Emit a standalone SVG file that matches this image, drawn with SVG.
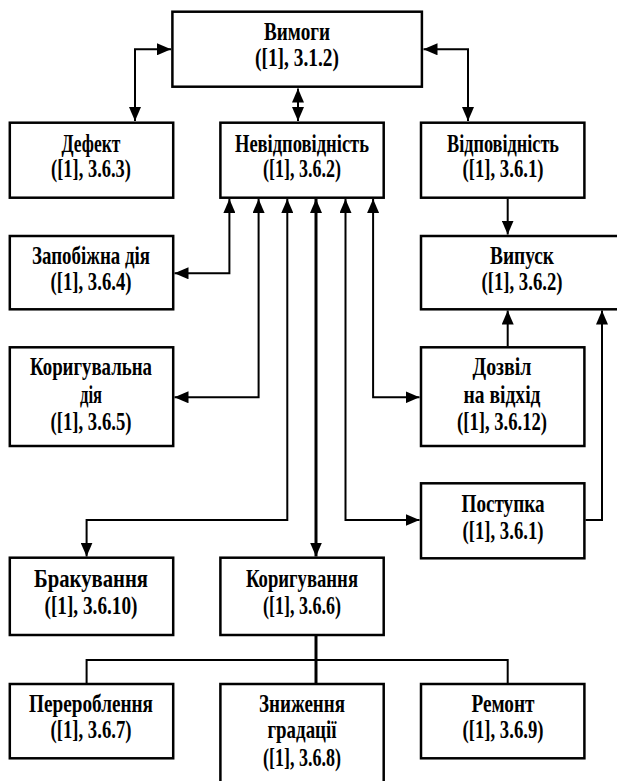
<svg xmlns="http://www.w3.org/2000/svg" width="617" height="781" viewBox="0 0 617 781">
<style>
.box{fill:#fff;stroke:#000;stroke-width:2.5}
.t{font-family:"Liberation Serif","Times New Roman","DejaVu Serif",serif;font-weight:bold;font-size:25px;text-anchor:middle;fill:#000}
.c{fill:none;stroke:#000;stroke-width:2}
.thick{stroke-width:3}
.a2{marker-start:url(#ah);marker-end:url(#ah)}
.a1{marker-end:url(#ah)}
</style>
<defs>
<marker id="ah" viewBox="0 0 14 12" refX="14" refY="6" markerWidth="14" markerHeight="12" markerUnits="userSpaceOnUse" orient="auto-start-reverse">
<path d="M0,0 L14,6 L0,12 Z" fill="#000"/>
</marker>
</defs>
<g id="connectors">
<path class="c a2" d="M171,49.3 H135 V121"/>
<path class="c a2" d="M423.5,49.3 H468 V121"/>
<path class="c a2" d="M298,88.5 V121"/>
<path class="c a2" d="M229.4,199 V273.3 H174.5"/>
<path class="c a2" d="M258.6,199 V397.3 H174.5"/>
<path class="c a2" d="M287.3,199 V520 H86.6 V556.5"/>
<path class="c thick a2" d="M316,199 V556.5"/>
<path class="c a2" d="M345.5,199 V520 H419.5"/>
<path class="c a2" d="M373.1,199 V397.3 H419.5"/>
<path class="c a1" d="M507.7,199 V234.5"/>
<path class="c a1" d="M507.7,346 V310.5"/>
<path class="c a1" d="M585.5,520 H602 V310.5"/>
<path class="c thick" d="M316,636 V684"/>
<path class="c" d="M86.6,684 V660 H507.7 V684"/>
</g>
<g id="vymohy"><rect class="box" x="172.4" y="11.7" width="249.5" height="75"/>
<text class="t" x="297" y="40" textLength="66" lengthAdjust="spacingAndGlyphs">Вимоги</text>
<text class="t" x="297" y="66" textLength="84" lengthAdjust="spacingAndGlyphs">([1], 3.1.2)</text></g>
<g id="defekt"><rect class="box" x="9.8" y="122.7" width="163.4" height="75"/>
<text class="t" x="91" y="152" textLength="59" lengthAdjust="spacingAndGlyphs">Дефект</text>
<text class="t" x="91" y="177" textLength="80" lengthAdjust="spacingAndGlyphs">([1], 3.6.3)</text></g>
<g id="nevidpovidnist"><rect class="box" x="220.4" y="122.7" width="163.3" height="75"/>
<text class="t" x="302" y="152" textLength="134" lengthAdjust="spacingAndGlyphs">Невідповідність</text>
<text class="t" x="302" y="177" textLength="78" lengthAdjust="spacingAndGlyphs">([1], 3.6.2)</text></g>
<g id="vidpovidnist"><rect class="box" x="421" y="122.7" width="163.4" height="75"/>
<text class="t" x="503" y="152" textLength="112" lengthAdjust="spacingAndGlyphs">Відповідність</text>
<text class="t" x="503" y="177" textLength="81" lengthAdjust="spacingAndGlyphs">([1], 3.6.1)</text></g>
<g id="zapobizhna"><rect class="box" x="9.8" y="236" width="163.4" height="73.3"/>
<text class="t" x="91" y="264" textLength="118" lengthAdjust="spacingAndGlyphs">Запобіжна дія</text>
<text class="t" x="91" y="290" textLength="81" lengthAdjust="spacingAndGlyphs">([1], 3.6.4)</text></g>
<g id="vypusk"><rect class="box" x="421" y="236" width="202" height="73.3"/>
<text class="t" x="522" y="264" textLength="64" lengthAdjust="spacingAndGlyphs">Випуск</text>
<text class="t" x="522" y="290" textLength="81" lengthAdjust="spacingAndGlyphs">([1], 3.6.2)</text></g>
<g id="koryhuvalna"><rect class="box" x="9.8" y="347.3" width="163.4" height="98.7"/>
<text class="t" x="91" y="375" textLength="122" lengthAdjust="spacingAndGlyphs">Коригувальна</text>
<text class="t" x="91" y="403" textLength="22" lengthAdjust="spacingAndGlyphs">дія</text>
<text class="t" x="91" y="430" textLength="81" lengthAdjust="spacingAndGlyphs">([1], 3.6.5)</text></g>
<g id="dozvil"><rect class="box" x="421" y="347.3" width="163.4" height="98.7"/>
<text class="t" x="502" y="375" textLength="59" lengthAdjust="spacingAndGlyphs">Дозвіл</text>
<text class="t" x="502" y="403" textLength="77" lengthAdjust="spacingAndGlyphs">на відхід</text>
<text class="t" x="502" y="430" textLength="90" lengthAdjust="spacingAndGlyphs">([1], 3.6.12)</text></g>
<g id="postupka"><rect class="box" x="421" y="483.3" width="163.4" height="75"/>
<text class="t" x="503" y="512" textLength="83" lengthAdjust="spacingAndGlyphs">Поступка</text>
<text class="t" x="503" y="539" textLength="81" lengthAdjust="spacingAndGlyphs">([1], 3.6.1)</text></g>
<g id="brakuvannia"><rect class="box" x="9.8" y="557.7" width="163.4" height="77.3"/>
<text class="t" x="91" y="587" textLength="114" lengthAdjust="spacingAndGlyphs">Бракування</text>
<text class="t" x="91" y="614" textLength="93" lengthAdjust="spacingAndGlyphs">([1], 3.6.10)</text></g>
<g id="koryhuvannia"><rect class="box" x="220.4" y="557.7" width="163.3" height="77.3"/>
<text class="t" x="302" y="587" textLength="112" lengthAdjust="spacingAndGlyphs">Коригування</text>
<text class="t" x="302" y="614" textLength="78" lengthAdjust="spacingAndGlyphs">([1], 3.6.6)</text></g>
<g id="pereroblennia"><rect class="box" x="9.8" y="684" width="163.4" height="74.3"/>
<text class="t" x="91" y="712" textLength="124" lengthAdjust="spacingAndGlyphs">Перероблення</text>
<text class="t" x="91" y="738" textLength="81" lengthAdjust="spacingAndGlyphs">([1], 3.6.7)</text></g>
<g id="znyzhennia"><rect class="box" x="220.4" y="684" width="163.3" height="102"/>
<text class="t" x="302" y="712" textLength="86" lengthAdjust="spacingAndGlyphs">Зниження</text>
<text class="t" x="302" y="738" textLength="69" lengthAdjust="spacingAndGlyphs">градації</text>
<text class="t" x="302" y="766" textLength="78" lengthAdjust="spacingAndGlyphs">([1], 3.6.8)</text></g>
<g id="remont"><rect class="box" x="421" y="684" width="163.4" height="74.3"/>
<text class="t" x="503" y="712" textLength="63" lengthAdjust="spacingAndGlyphs">Ремонт</text>
<text class="t" x="503" y="738" textLength="81" lengthAdjust="spacingAndGlyphs">([1], 3.6.9)</text></g>
</svg>
